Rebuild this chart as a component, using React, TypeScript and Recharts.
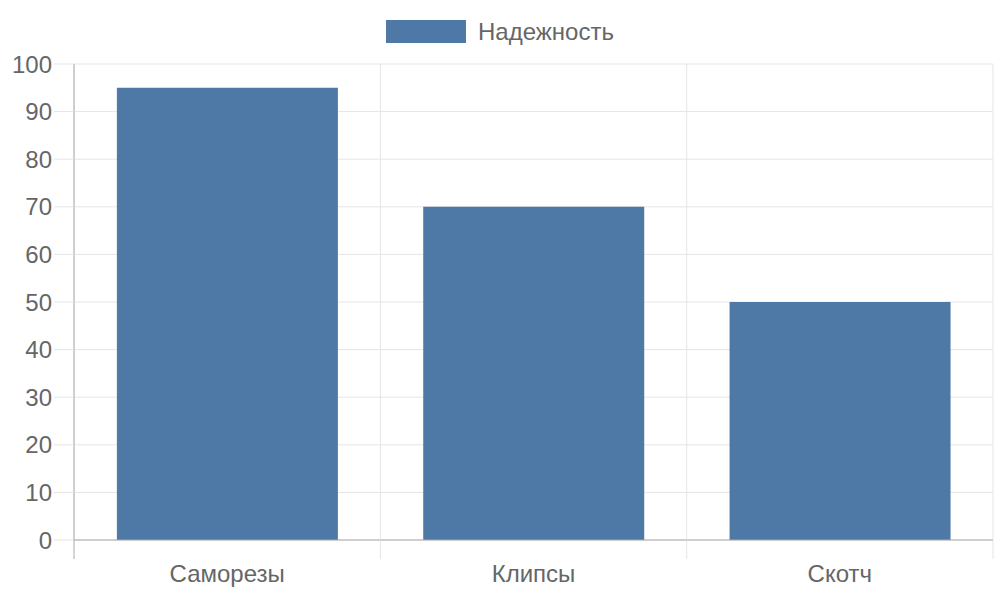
import { BarChart, Bar, XAxis, YAxis, CartesianGrid, Legend } from "recharts";

const categories = ["Саморезы", "Клипсы", "Скотч"];
const reliability = [95, 70, 50];
const yTicks = [0, 10, 20, 30, 40, 50, 60, 70, 80, 90, 100];

const SERIES_NAME = "Надежность";
const BAR_COLOR = "#4e79a7";
const TEXT = "#666666";
const GRID = "#e5e5e5";
const AXIS = "#aaaaaa";
const FONT = "'Liberation Sans', Arial, sans-serif";
const FONT_SIZE = 24;
const TICK_LEN = 19;
const TICK_GAP = 6;

const data = categories.map((name, i) => ({ name, value: reliability[i] }));

function LegendContent() {
  return (
    <div
      style={{
        height: 64,
        display: "flex",
        justifyContent: "center",
        alignItems: "flex-start",
        paddingTop: 20,
        boxSizing: "border-box",
        fontFamily: FONT,
        fontSize: FONT_SIZE,
        color: TEXT,
      }}
    >
      <div style={{ display: "flex", alignItems: "center", gap: 12 }}>
        <div style={{ width: 80, height: 23, background: BAR_COLOR }} />
        <span style={{ lineHeight: "23px" }}>{SERIES_NAME}</span>
      </div>
    </div>
  );
}

// category label plus tick marks at the band boundaries (Chart.js style)
function CategoryTick(props: any) {
  const { x, y, payload, index, visibleTicksCount } = props;
  const half = payload.offset || 0;
  const axisY = y - TICK_LEN - TICK_GAP;
  const last = index === visibleTicksCount - 1;
  return (
    <g>
      <line x1={x - half} x2={x - half} y1={axisY} y2={axisY + TICK_LEN} stroke={index === 0 ? AXIS : GRID} />
      {last && <line x1={x + half} x2={x + half} y1={axisY} y2={axisY + TICK_LEN} stroke={GRID} />}
      <text x={x} y={y} dy="0.71em" textAnchor="middle" fill={TEXT} fontSize={FONT_SIZE} fontFamily={FONT}>
        {payload.value}
      </text>
    </g>
  );
}

export default function App() {
  return (
    <div style={{ position: "absolute", left: 0, top: 0, width: 1000, height: 600, background: "#fff" }}>
      <BarChart
        width={1000}
        height={600}
        data={data}
        margin={{ top: 0, right: 7, bottom: 0, left: 0 }}
        barCategoryGap="14%"
      >
        <Legend
          verticalAlign="top"
          content={<LegendContent />}
          wrapperStyle={{ left: 0, width: 1000, top: 0 }}
        />
        <CartesianGrid
          stroke={GRID}
          verticalCoordinatesGenerator={({ offset }: any) =>
            categories.map((_, i) => offset.left + (i * offset.width) / categories.length).concat(offset.left + offset.width)
          }
        />
        <XAxis
          dataKey="name"
          height={60}
          tickSize={TICK_LEN}
          tickMargin={TICK_GAP}
          tickLine={false}
          axisLine={{ stroke: AXIS }}
          tick={<CategoryTick />}
        />
        <YAxis
          width={74}
          domain={[0, 100]}
          ticks={yTicks}
          interval={0}
          tickSize={20}
          tickMargin={2}
          tickLine={{ stroke: GRID }}
          axisLine={{ stroke: AXIS }}
          tick={{ fill: TEXT, fontSize: FONT_SIZE, fontFamily: FONT }}
        />
        <Bar dataKey="value" name={SERIES_NAME} fill={BAR_COLOR} isAnimationActive={false} />
      </BarChart>
    </div>
  );
}
